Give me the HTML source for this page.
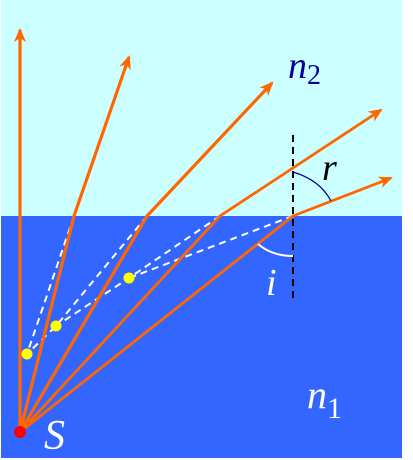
<!DOCTYPE html>
<html><head><meta charset="utf-8"><style>body{margin:0;background:#fff}svg{display:block}</style></head>
<body>
<svg width="413" height="460" viewBox="0 0 413 460" xmlns="http://www.w3.org/2000/svg">
<defs><marker id="ah" markerWidth="14" markerHeight="12" refX="12" refY="6" orient="auto" markerUnits="userSpaceOnUse"><path d="M0,0 L14,6 L0,12 L4,6 Z" fill="#ff6600"/></marker></defs>
<rect x="1" y="0" width="401" height="216" fill="#ccffff"/>
<rect x="1" y="216" width="401" height="242" fill="#3366ff"/>
<g stroke="#fff" stroke-width="2" stroke-dasharray="7,5" fill="none">
<polyline points="74,216 27,354"/>
<polyline points="147,216 56,326 27,354"/>
<polyline points="220,216 129,278 56,326"/>
<polyline points="293,216 129,278"/>
</g>
<g stroke="#ff6600" stroke-width="3.2" fill="none">
<polyline points="20,432 20,30" marker-end="url(#ah)"/>
<polyline points="20,432 74,216 129,57" marker-end="url(#ah)"/>
<polyline points="20,432 147,216 272,83" marker-end="url(#ah)"/>
<polyline points="20,432 220,216 381,110" marker-end="url(#ah)" stroke-width="2.8"/>
<polyline points="20,432 293,216 391,178" marker-end="url(#ah)" stroke-width="2.8"/>
</g>
<line x1="293" y1="135" x2="293" y2="298" stroke="#000" stroke-width="2" stroke-dasharray="7,5"/>
<path d="M293,172 Q320,180 331,201" stroke="#000099" stroke-width="1.2" fill="none"/>
<path d="M258,244 Q272,256 293,256" stroke="#fff" stroke-width="2" fill="none"/>
<g fill="#ffff00">
<circle cx="27" cy="354" r="5.5"/><circle cx="56" cy="326" r="5.5"/><circle cx="129" cy="278" r="5.5"/>
</g>
<circle cx="20" cy="432" r="6" fill="#ff0000"/>
<g font-family="'Liberation Serif', 'DejaVu Serif', serif" font-style="italic">
<text x="288" y="78" font-size="38" fill="#000099">n<tspan font-style="normal" font-size="28" dy="6">2</tspan></text>
<text x="322" y="180" font-size="38" fill="#000">r</text>
<text x="266" y="295" font-size="38" fill="#fff">i</text>
<text x="307" y="408" font-size="40" fill="#fff">n<tspan font-style="normal" font-size="30" dy="10">1</tspan></text>
<text x="44" y="449" font-size="42" fill="#fff">S</text>
</g>
</svg>
</body></html>
